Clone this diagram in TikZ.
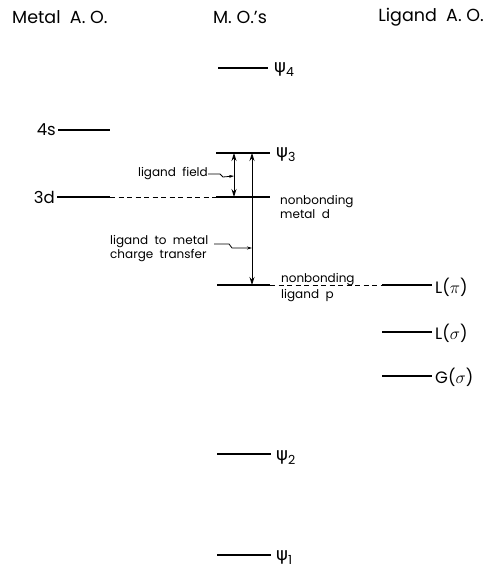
\documentclass[tikz,border=0pt]{standalone}
\usepackage{fontspec}
\setmainfont{Poppins}
\newfontfamily\grk{DejaVu Sans}
\usetikzlibrary{arrows.meta}
\newcommand{\psisub}[1]{{\grk\fontsize{18}{18}\selectfont ψ}\raisebox{-0.45ex}{\fontsize{12.5}{12}\selectfont #1}}
\begin{document}
\begin{tikzpicture}[x=1pt,y=-1pt,
  lvl/.style={line width=1.5pt},
  dsh/.style={line width=0.9pt, dash pattern=on 5pt off 3.5pt},
  ttl/.style={font=\fontsize{17.5}{19}\selectfont, inner sep=0pt},
  lab/.style={font=\fontsize{16.5}{18}\selectfont, inner sep=0pt},
  sml/.style={font=\fontsize{12}{14}\selectfont, inner sep=0pt, align=left},
  dbl/.style={line width=0.8pt, {Stealth[length=8pt,width=5pt]}-{Stealth[length=8pt,width=5pt]}},
  ptr/.style={line width=0.8pt, -{Stealth[length=5pt,width=3pt]}},
]
\useasboundingbox (0,0) rectangle (489,575);
% titles
\node[ttl, anchor=west] (tmetal) at (12,17) {Metal\ \ A. O.};
\node[ttl] (tmo) at (240,17) {M. O.'s};
\node[ttl, anchor=east] (tlig) at (484,17) {Ligand\ \ A. O.};
% psi 4
\coordinate (p4a) at (218,68); \coordinate (p4b) at (268,68);
\draw[lvl] (p4a) -- (p4b);
\node[lab, anchor=west] (p4) at (274,70) {\psisub{4}};
% 4s
\node[lab, anchor=east] (s4) at (56,130) {4s};
\coordinate (s4a) at (58,130); \coordinate (s4b) at (110,130);
\draw[lvl] (s4a) -- (s4b);
% psi 3
\coordinate (p3a) at (216,153); \coordinate (p3b) at (270,153);
\draw[lvl] (p3a) -- (p3b);
\node[lab, anchor=west] (p3) at (276,155) {\psisub{3}};
% 3d
\node[lab, anchor=east] (d3) at (55,197) {3d};
\coordinate (d3a) at (57,197); \coordinate (d3b) at (110,197);
\coordinate (nda) at (216,197); \coordinate (ndb) at (270,197);
\draw[lvl] (d3a) -- (d3b);
\draw[dsh] (d3b) -- (nda);
\draw[lvl] (nda) -- (ndb);
\node[sml, anchor=north west] (ndl) at (280,195) {nonbonding\\metal\ \ d};
% nonbonding ligand p
\coordinate (npa) at (217,285); \coordinate (npb) at (270,285);
\coordinate (lpa) at (382,285); \coordinate (lpb) at (432,285);
\draw[lvl] (npa) -- (npb);
\draw[dsh] (npb) -- (lpa);
\draw[lvl] (lpa) -- (lpb);
\node[sml, anchor=base west] (npl1) at (281,282) {nonbonding};
\node[sml, anchor=base west] (npl2) at (281,298) {ligand\ \ p};
\node[lab, anchor=west] (lpi) at (435,287) {L($\pi$)};
% L sigma, G sigma
\coordinate (lsa) at (382,332); \coordinate (lsb) at (432,332);
\draw[lvl] (lsa) -- (lsb);
\node[lab, anchor=west] (lsi) at (435,333) {L($\sigma$)};
\coordinate (gsa) at (382,376); \coordinate (gsb) at (432,376);
\draw[lvl] (gsa) -- (gsb);
\node[lab, anchor=west] (gsi) at (435,377) {G($\sigma$)};
% psi 2, psi 1
\coordinate (p2a) at (217,454); \coordinate (p2b) at (271,454);
\draw[lvl] (p2a) -- (p2b);
\node[lab, anchor=west] (p2) at (276,458) {\psisub{2}};
\coordinate (p1a) at (217,555); \coordinate (p1b) at (271,555);
\draw[lvl] (p1a) -- (p1b);
\node[lab, anchor=west] (p1) at (276,558) {\psisub{1}};
% transitions
\coordinate (lfT) at (234,153); \coordinate (lfB) at (234,197);
\draw[dbl] (lfT) -- (lfB);
\coordinate (ctT) at (252,153); \coordinate (ctB) at (252,285);
\draw[dbl] (ctT) -- (ctB);
% labels with pointers
\node[sml, anchor=east] (lfl) at (208,174) {ligand\ \ field};
\coordinate (lfp) at (234,176);
\draw[ptr] (lfl.east) -- ++(12,0) -- ++(3,3) -- (lfp);
\node[sml, anchor=north west] (ctl) at (110,235) {ligand\ \ to\ \ metal\\charge\ \ transfer};
\coordinate (ctp) at (252,248);
\draw[ptr] (214,244) -- (229,244) -- (232,248) -- (ctp);
\end{tikzpicture}
\end{document}
